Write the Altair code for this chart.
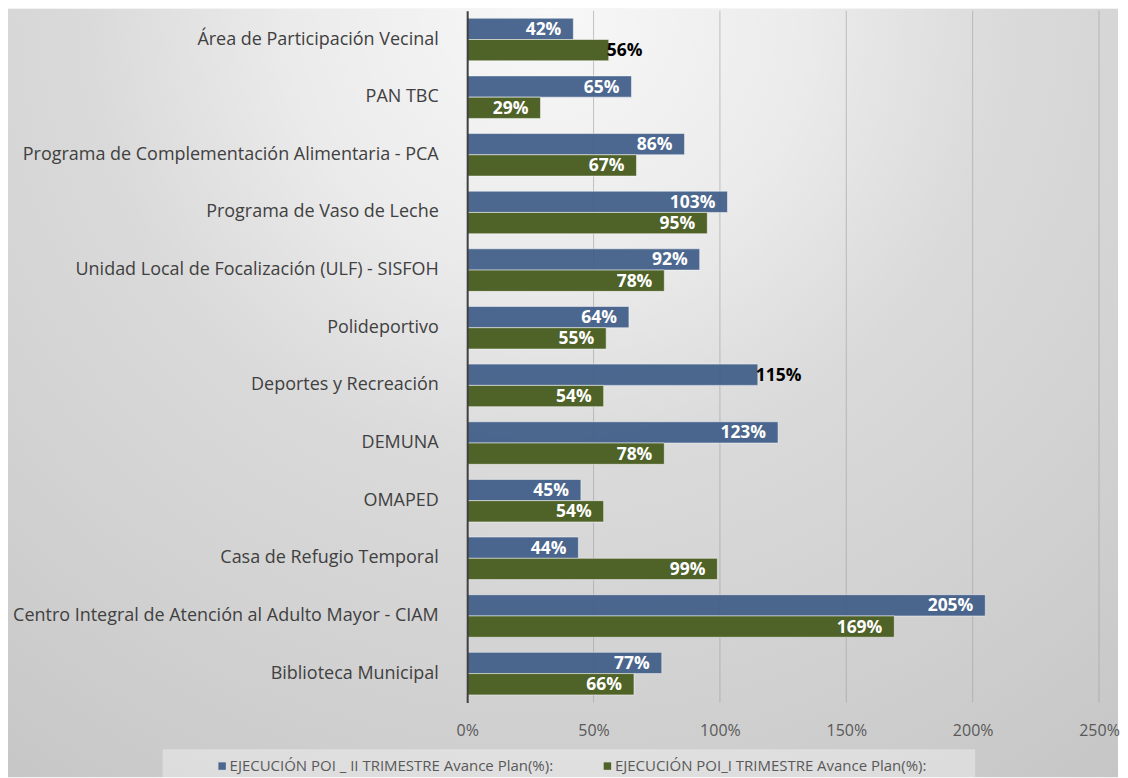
import altair as alt
import pandas as pd

categories = [
    "Área de Participación Vecinal",
    "PAN TBC",
    "Programa de Complementación Alimentaria - PCA",
    "Programa de Vaso de Leche",
    "Unidad Local de Focalización (ULF) - SISFOH",
    "Polideportivo",
    "Deportes y Recreación",
    "DEMUNA",
    "OMAPED",
    "Casa de Refugio Temporal",
    "Centro Integral de Atención al Adulto Mayor - CIAM",
    "Biblioteca Municipal",
]
series_names = [
    "EJECUCIÓN POI _ II TRIMESTRE Avance Plan(%):",
    "EJECUCIÓN POI_I TRIMESTRE Avance Plan(%):",
]
ii_values = [42, 65, 86, 103, 92, 64, 115, 123, 45, 44, 205, 77]
i_values = [56, 29, 67, 95, 78, 55, 54, 78, 54, 99, 169, 66]
x_ticks = [0, 50, 100, 150, 200, 250]
grid_ticks = [50, 100, 150, 200, 250]

# labels drawn outside (black) instead of inside the bar
outside_labels = {("Área de Participación Vecinal", 1), ("Deportes y Recreación", 0)}

rows = []
for i, c in enumerate(categories):
    for s, vals in enumerate([ii_values, i_values]):
        rows.append({
            "categoria": c,
            "serie": series_names[s],
            "valor": vals[i],
            "label": f"{vals[i]}%",
            "outside": (c, s) in outside_labels,
        })
df = pd.DataFrame(rows)

W, H = 633, 693

x_scale = alt.Scale(domain=[0, 250], nice=False)
x_axis = alt.Axis(title=None, values=x_ticks, labelExpr="datum.value + '%'",
                  labelFontSize=16, labelColor="#595959", labelPadding=20,
                  labelFlush=False, ticks=False, domain=False, grid=False, zindex=1)
y_enc = alt.Y("categoria:N", sort=categories,
              scale=alt.Scale(paddingInner=0.262, paddingOuter=0.131),
              axis=alt.Axis(title=None, labelFontSize=18, labelColor="#404040",
                            labelPadding=29, ticks=False, domain=True,
                            domainColor="#404040", domainWidth=2,
                            labelLimit=700, grid=False, zindex=1))
yoff_enc = alt.YOffset("serie:N", sort=series_names,
                       scale=alt.Scale(paddingInner=0, paddingOuter=0))

grad = {
    "gradient": "radial",
    "x1": 0.487, "y1": 0.154, "r1": 0,
    "x2": 0.487, "y2": 0.154, "r2": 0.9,
    "stops": [
        {"offset": 0, "color": "#f8f8f8"},
        {"offset": 0.26, "color": "#ebebeb"},
        {"offset": 0.46, "color": "#dadada"},
        {"offset": 0.72, "color": "#d0d0d0"},
        {"offset": 0.93, "color": "#c7c7c7"},
        {"offset": 1, "color": "#c4c4c4"},
    ],
}

one = alt.Data(values=[{}])
background = alt.Chart(one).mark_rect(fill=grad).encode(
    x=alt.value(-460), x2=alt.value(652), y=alt.value(-2), y2=alt.value(768)
)
legend_box = alt.Chart(one).mark_rect(fill="white", fillOpacity=0.35).encode(
    x=alt.value(-305), x2=alt.value(509), y=alt.value(740), y2=alt.value(768)
)

grid = alt.Chart(pd.DataFrame({"tick": grid_ticks})).mark_rule(
    stroke="#a0a0a0", strokeOpacity=0.6, strokeWidth=1
).encode(
    x=alt.X("tick:Q", scale=x_scale, axis=x_axis),
    y=alt.value(0), y2=alt.value(H),
)

base = alt.Chart(df)

bars = base.mark_bar(stroke="white", strokeOpacity=0.5, strokeWidth=1).encode(
    x=alt.X("valor:Q", scale=x_scale, axis=x_axis),
    y=y_enc,
    yOffset=yoff_enc,
    color=alt.Color("serie:N",
                    scale=alt.Scale(domain=series_names, range=["#3f5d88", "#4f6228"]),
                    legend=alt.Legend(orient="none", legendX=-253, legendY=749,
                                      direction="horizontal", title=None,
                                      symbolType="square", symbolSize=56,
                                      symbolStrokeWidth=0, labelFontSize=15,
                                      labelColor="#595959", labelLimit=0,
                                      columnPadding=46, padding=0, labelOffset=0,
                                      zindex=1)),
    opacity=alt.Opacity("serie:N", scale=alt.Scale(domain=series_names, range=[0.92, 1.0]),
                        legend=None),
)

text_in = base.transform_filter("!datum.outside").mark_text(
    align="right", baseline="middle", dx=-12, dy=1, fontSize=17.5,
    fontWeight="bold", color="white"
).encode(
    x=alt.X("valor:Q", scale=x_scale, axis=x_axis),
    y=y_enc, yOffset=yoff_enc, text="label:N",
)
text_out = base.transform_filter("datum.outside").mark_text(
    align="left", baseline="middle", dx=-2, dy=1, fontSize=17.5,
    fontWeight="bold", color="black"
).encode(
    x=alt.X("valor:Q", scale=x_scale, axis=x_axis),
    y=y_enc, yOffset=yoff_enc, text="label:N",
)

chart = alt.layer(background, legend_box, grid, bars, text_in, text_out).properties(
    width=W, height=H, padding=0
).configure(font="Open Sans").configure_view(stroke=None)

chart.save("out.html", embed_options={"renderer": "svg", "actions": False})
